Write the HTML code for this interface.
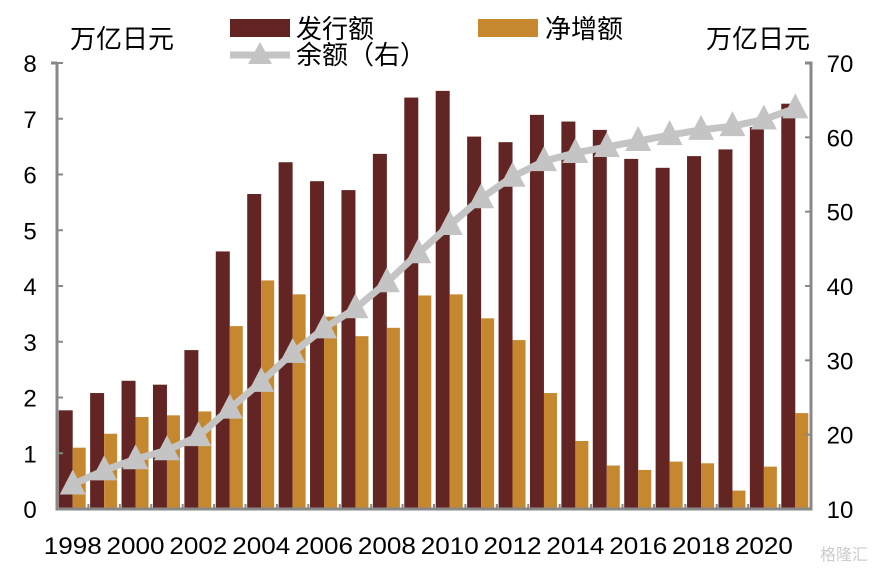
<!DOCTYPE html>
<html><head><meta charset="utf-8"><style>
body{margin:0;background:#fff;}
text{font-family:"Liberation Sans","Noto Sans CJK SC",sans-serif;}
</style></head><body>
<svg id="c" width="881" height="567" xmlns="http://www.w3.org/2000/svg"></svg>
<script>
const years=[1998,1999,2000,2001,2002,2003,2004,2005,2006,2007,2008,2009,2010,2011,2012,2013,2014,2015,2016,2017,2018,2019,2020,2021];
const issuance=[1.77,2.08,2.3,2.23,2.85,4.62,5.65,6.22,5.88,5.72,6.37,7.38,7.5,6.68,6.58,7.07,6.95,6.8,6.28,6.12,6.33,6.45,6.85,7.27];
const netIncrease=[1.1,1.35,1.65,1.68,1.75,3.28,4.1,3.85,3.45,3.1,3.25,3.83,3.85,3.42,3.03,2.08,1.22,0.78,0.7,0.85,0.82,0.33,0.76,1.72];
const balance=[13.3,15.2,16.7,17.9,19.8,23.5,27.1,31,34.3,37,40.5,44.4,48.2,51.8,54.7,56.8,57.9,58.7,59.5,60.3,61,61.5,62.4,63.9];
const leftTicks=[0,1,2,3,4,5,6,7,8];
const rightTicks=[10,20,30,40,50,60,70];
const NS="http://www.w3.org/2000/svg";
const svg=document.getElementById('c');
const X0=57,X1=811,Y0=509,Y1=63;
const bw=(X1-X0)/years.length;
const yl=v=>Y0-(v/8)*(Y0-Y1);
const yr=v=>Y0-((v-10)/60)*(Y0-Y1);
const xc=i=>X0+bw*(i+0.5);
function mk(t,a){const e=document.createElementNS(NS,t);for(const k in a)e.setAttribute(k,a[k]);svg.appendChild(e);return e;}
issuance.forEach((v,i)=>{const r=mk('rect',{x:xc(i)-14,y:yl(v),width:14,height:Y0-yl(v),fill:'#632523'});

});
netIncrease.forEach((v,i)=>{const r=mk('rect',{x:xc(i),y:yl(v),width:13,height:Y0-yl(v),fill:'#c5882f'});

});
let a=mk('path',{d:`M${X0},${Y1}H${X0-6}M${X0},${Y1}V${Y0}H${X1}V${Y1}H${X1-6}`,stroke:'#888',fill:'none','stroke-width':3});


leftTicks.forEach(v=>{mk('line',{x1:X0,x2:X0+6,y1:yl(v),y2:yl(v),stroke:'#888','stroke-width':2});
const t=mk('text',{x:30,y:yl(v)+9,'font-size':24,'text-anchor':'middle'});t.textContent=v;

});
rightTicks.forEach(v=>{mk('line',{x1:X1,x2:X1-6,y1:yr(v),y2:yr(v),stroke:'#888','stroke-width':2});
const t=mk('text',{x:840,y:yr(v)+9,'font-size':24,'text-anchor':'middle'});t.textContent=v;

});
years.forEach((y,i)=>{mk('line',{x1:X0+bw*i,x2:X0+bw*i,y1:Y0,y2:Y0-5,stroke:'#888','stroke-width':2});
if(i%2==0){const t=mk('text',{x:xc(i),y:554,'font-size':24,'text-anchor':'middle','textLength':58,'lengthAdjust':'spacingAndGlyphs'});t.textContent=y;

}});
const pts=balance.map((v,i)=>[xc(i),yr(v)]);
const l=mk('polyline',{points:pts.map(p=>p.join(',')).join(' '),stroke:'#c4c4c4','stroke-width':7,fill:'none'});


pts.forEach((p,i)=>{const m=mk('polygon',{points:`${p[0]},${p[1]-15} ${p[0]-13},${p[1]+10} ${p[0]+13},${p[1]+10}`,fill:'#c4c4c4'});

});
function txt(x,y,s,n,sz){const t=mk('text',{x:x,y:y,'font-size':sz||26});t.textContent=s;

return t;}
txt(70,48,'万亿日元','left-unit-label');
txt(706,48,'万亿日元','right-unit-label');
let s1=mk('rect',{x:230,y:19,width:60,height:18,fill:'#632523'});


txt(296,38,'发行额','legend-issuance-label');
let s2=mk('rect',{x:478,y:19,width:60,height:18,fill:'#c5882f'});


txt(545,38,'净增额','legend-net-increase-label');
let s3=mk('line',{x1:230,x2:290,y1:55,y2:55,stroke:'#c4c4c4','stroke-width':7});


mk('polygon',{points:'260,42 248,64 272,64',fill:'#c4c4c4'});
txt(296,64,'余额（右）','legend-balance-label');
const w=txt(820,560,'格隆汇','watermark',16);w.setAttribute('fill','#ccc');
</script>
</body></html>
